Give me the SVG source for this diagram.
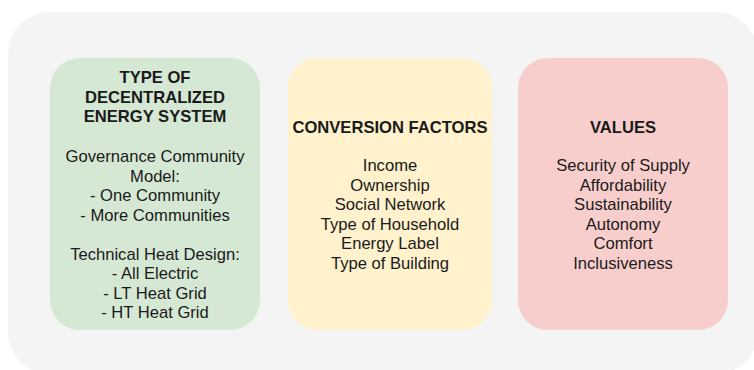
<svg xmlns="http://www.w3.org/2000/svg" width="754" height="370" viewBox="0 0 754 370">
<style>
text{font-family:"Liberation Sans",Arial,sans-serif;font-size:16.6px;fill:#1a1a1a;text-anchor:middle}
.h{font-weight:bold}
</style>
<rect width="754" height="370" fill="#ffffff"/>
<rect id="panel" x="8" y="12" width="750" height="362" rx="42" ry="42" fill="#f4f4f4"/>
<g id="node-type">
<rect x="50" y="58" width="210" height="272" rx="30" ry="30" fill="#d5e8d4"/>
<text class="h" x="155" y="83">TYPE OF</text>
<text class="h" x="155" y="102.5">DECENTRALIZED</text>
<text class="h" x="155" y="122">ENERGY SYSTEM</text>
<text x="155" y="162">Governance Community</text>
<text x="155" y="181.5">Model:</text>
<text x="155" y="201">- One Community</text>
<text x="155" y="220.5">- More Communities</text>
<text x="155" y="259.5">Technical Heat Design:</text>
<text x="155" y="279">- All Electric</text>
<text x="155" y="298.5">- LT Heat Grid</text>
<text x="155" y="318">- HT Heat Grid</text>
</g>
<g id="node-conversion">
<rect x="288" y="58" width="204" height="272" rx="30" ry="30" fill="#fff2cc"/>
<text class="h" x="390" y="133">CONVERSION FACTORS</text>
<text x="390" y="171">Income</text>
<text x="390" y="190.5">Ownership</text>
<text x="390" y="210">Social Network</text>
<text x="390" y="229.5">Type of Household</text>
<text x="390" y="249">Energy Label</text>
<text x="390" y="268.5">Type of Building</text>
</g>
<g id="node-values">
<rect x="518" y="58" width="210" height="272" rx="30" ry="30" fill="#f8cecc"/>
<text class="h" x="623" y="133">VALUES</text>
<text x="623" y="171">Security of Supply</text>
<text x="623" y="190.5">Affordability</text>
<text x="623" y="210">Sustainability</text>
<text x="623" y="229.5">Autonomy</text>
<text x="623" y="249">Comfort</text>
<text x="623" y="268.5">Inclusiveness</text>
</g>
<g id="connectors"></g>
</svg>
